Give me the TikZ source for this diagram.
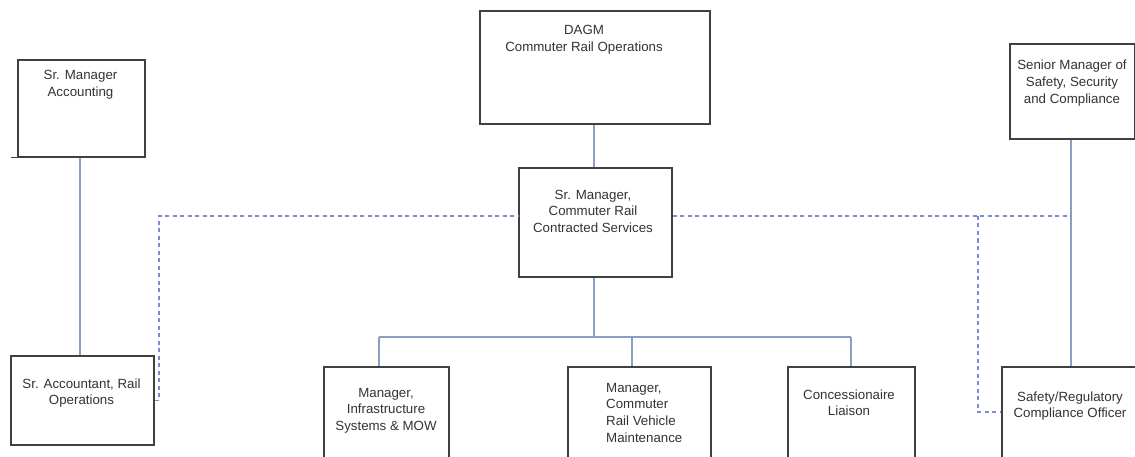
\documentclass[tikz,border=0pt]{standalone}
\usepackage{fontspec}
\setmainfont{Liberation Sans}
\definecolor{boxc}{HTML}{404040}
\definecolor{txtc}{HTML}{333333}
\definecolor{linkc}{HTML}{8C9DC2}
\definecolor{dashc}{HTML}{7B89D6}
\begin{document}
\begin{tikzpicture}[x=1pt,y=-1pt,
  box/.style={draw=boxc, line width=1.8pt, fill=white, inner sep=0pt, anchor=north west},
  lbl/.style={text=txtc, font=\fontsize{13.3}{16.8}\selectfont, align=center, inner sep=0pt, anchor=base},
  link/.style={draw=linkc, line width=1.8pt},
  dline/.style={draw=dashc, line width=1.8pt, dash pattern=on 4pt off 3.5pt}
]
\useasboundingbox (0,0) rectangle (1135,457);
\clip (0,0) rectangle (1135,457);

% boxes
\node[box, minimum width=127pt, minimum height=97pt] (acct) at (17,59) {};
\node[box, minimum width=143pt, minimum height=89pt] (acc2) at (10,355) {};
\node[box, minimum width=230pt, minimum height=113pt] (dagm) at (479,10) {};
\node[box, minimum width=153pt, minimum height=109pt] (srmgr) at (518,167) {};
\node[box, minimum width=125pt, minimum height=95pt] (senior) at (1009,43) {};
\node[box, minimum width=125pt, minimum height=110pt] (infra) at (323,366) {};
\node[box, minimum width=143pt, minimum height=110pt] (vehicle) at (567,366) {};
\node[box, minimum width=127pt, minimum height=110pt] (conc) at (787,366) {};
\node[box, minimum width=150pt, minimum height=110pt] (safety) at (1001,366) {};
\draw[draw=boxc, line width=1.4pt] (acct.south west) -- ++(-6,0);

% labels (anchor = baseline of the last line)
\node[lbl] (tacct) at (80.5,96.8) {Sr. Manager\\Accounting};
\node[lbl] (tacc2) at (81.5,404.8) {Sr. Accountant, Rail\\Operations};
\node[lbl] (tdagm) at (584,51.8) {DAGM\\Commuter Rail Operations};
\node[lbl] (tsrmgr) at (593,232.6) {Sr. Manager,\\Commuter Rail\\Contracted Services};
\node[lbl] (tsenior) at (1072,103.6) {Senior Manager of\\Safety, Security\\and Compliance};
\node[lbl] (tinfra) at (386,430.6) {Manager,\\Infrastructure\\Systems \& MOW};
\node[lbl, align=left, anchor=base west] (tvehicle) at (606,442.4) {Manager,\\Commuter\\Rail Vehicle\\Maintenance};
\node[lbl] (tconc) at (849,415.8) {Concessionaire\\Liaison};
\node[lbl] (tsafety) at (1070,417.8) {Safety/Regulatory\\Compliance Officer};

% coordinates
\coordinate (bus) at (594,337);
\coordinate (d1) at (379,337);
\coordinate (d2) at (632,337);
\coordinate (d3) at (851,337);
\coordinate (dj) at (159,216);
\coordinate (dr) at (1071,216);
\coordinate (ds) at (978,216);
\coordinate (dsafe) at (1001,412);

% solid connectors
\draw[link] (acct.south -| 80,0) -- (acc2.north -| 80,0);
\draw[link] (bus |- dagm.south) -- (bus |- srmgr.north);
\draw[link] (bus |- srmgr.south) -- (bus);
\draw[link] (d1) -- (d3);
\draw[link] (d1) -- (d1 |- infra.north);
\draw[link] (d2) -- (d2 |- vehicle.north);
\draw[link] (d3) -- (d3 |- conc.north);
\draw[link] (senior.south -| dr) -- (dr |- safety.north);

% dashed connectors
\draw[dline] (acc2.east) -| (dj) -- (dj -| srmgr.west);
\draw[dline] (dj -| srmgr.east) -- (dr);
\draw[dline] (ds) |- (dsafe);
\end{tikzpicture}
\end{document}
